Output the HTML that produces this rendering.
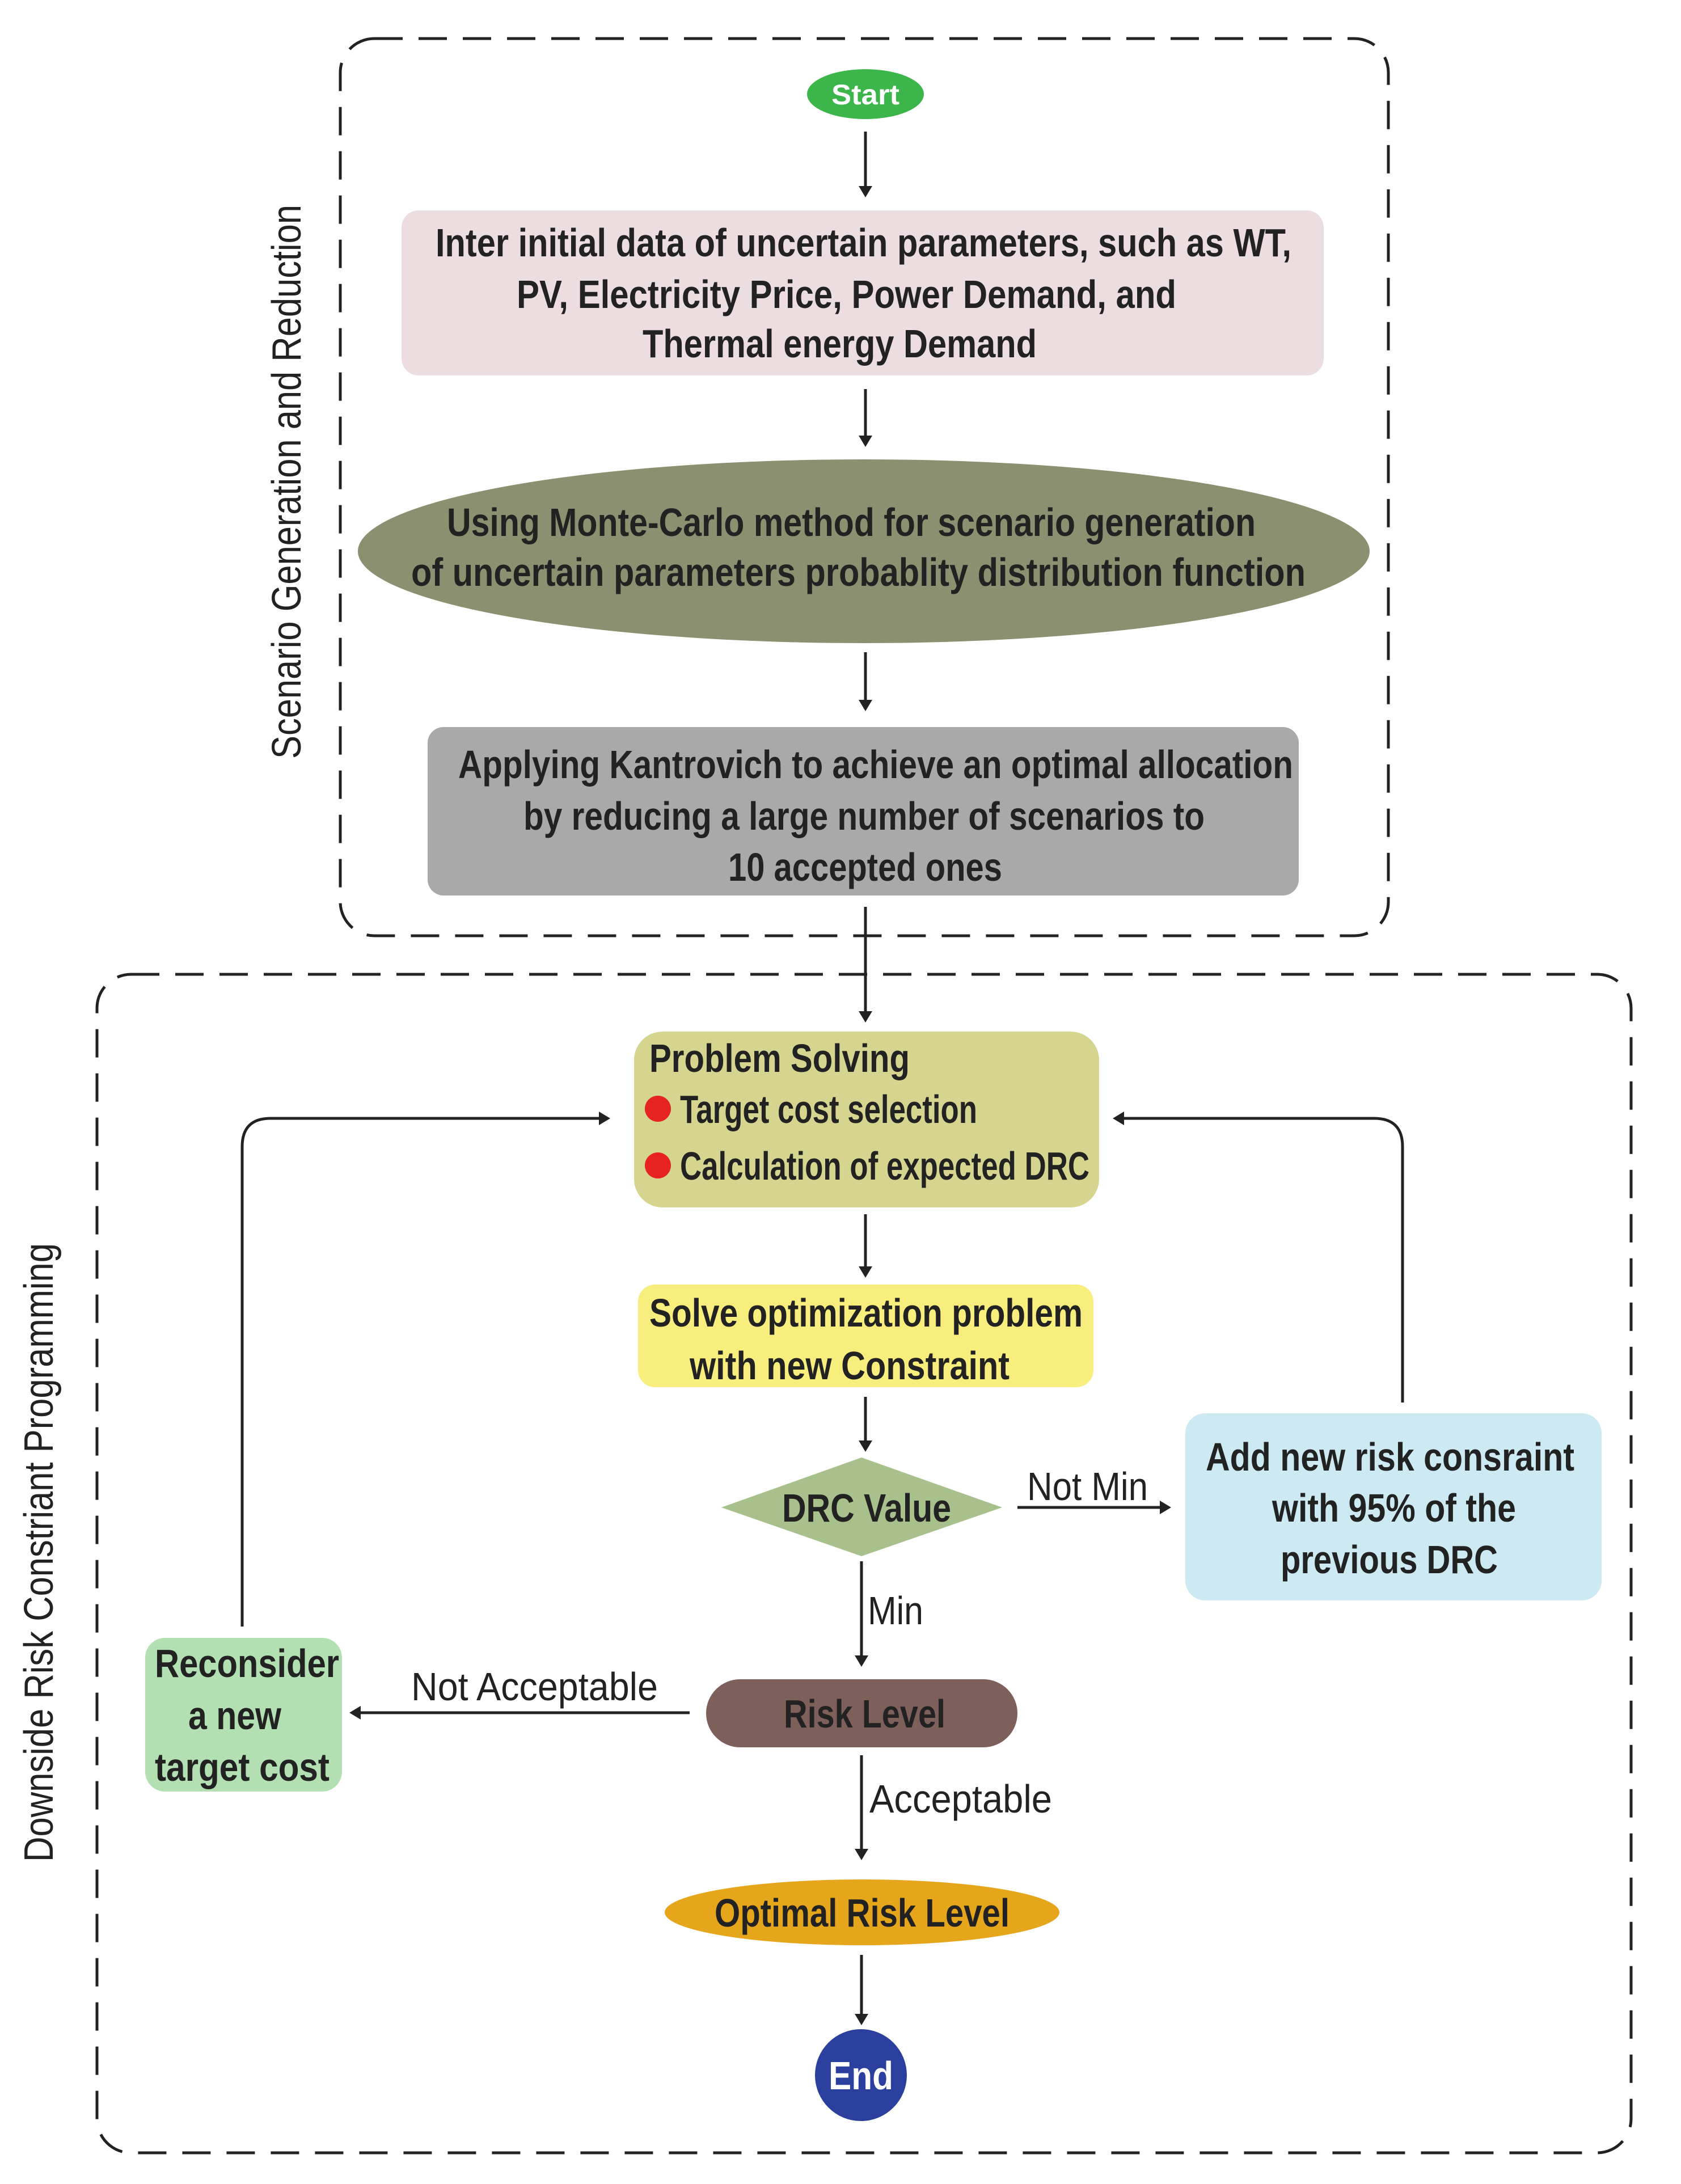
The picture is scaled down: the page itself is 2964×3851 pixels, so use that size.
<!DOCTYPE html>
<html><head><meta charset="utf-8"><style>html,body{margin:0;padding:0;background:#fff}svg{display:block}</style></head>
<body>
<svg width="2964" height="3851" viewBox="0 0 2964 3851" xmlns="http://www.w3.org/2000/svg">
<defs>
<marker id="ar" viewBox="0 0 10 10" refX="9" refY="5" markerWidth="10" markerHeight="10" markerUnits="userSpaceOnUse" orient="auto">
</marker>
</defs>
<style>
text{font-family:"Liberation Sans",sans-serif;font-weight:bold;fill:#222;font-size:70px}
.t{text-anchor:start}
.l{stroke:#222;stroke-width:5;fill:none}
.ah{fill:#222}
</style>
<!-- dashed containers -->
<rect x="600" y="68" width="1848" height="1582" rx="60" fill="none" stroke="#222" stroke-width="5" stroke-dasharray="50,28"/>
<rect x="171" y="1718" width="2705" height="2078" rx="60" fill="none" stroke="#222" stroke-width="5" stroke-dasharray="50,28"/>

<!-- side labels -->
<text transform="translate(530,1338) rotate(-90)" textLength="977" lengthAdjust="spacingAndGlyphs" style="font-weight:normal;font-size:72px">Scenario Generation and Reduction</text>
<text transform="translate(93,3283) rotate(-90)" textLength="1091" lengthAdjust="spacingAndGlyphs" style="font-weight:normal;font-size:72px">Downside Risk Constriant Programming</text>

<!-- Start -->
<ellipse cx="1526" cy="166" rx="103" ry="44" fill="#3cb54a"/>
<text x="1466" y="184" textLength="120" lengthAdjust="spacingAndGlyphs" style="fill:#fff;font-size:50px">Start</text>

<!-- arrows vertical -->
<g class="l">
<line x1="1526" y1="232" x2="1526" y2="330"/>
<line x1="1526" y1="686" x2="1526" y2="770"/>
<line x1="1526" y1="1150" x2="1526" y2="1236"/>
<line x1="1526" y1="1599" x2="1526" y2="1785"/>
<line x1="1526" y1="2141" x2="1526" y2="2235"/>
<line x1="1526" y1="2463" x2="1526" y2="2542"/>
<line x1="1794" y1="2658" x2="2047" y2="2658"/>
<line x1="1519" y1="2753" x2="1519" y2="2921"/>
<line x1="1216" y1="3020" x2="634" y2="3020"/>
<line x1="1519" y1="3095" x2="1519" y2="3262"/>
<line x1="1519" y1="3447" x2="1519" y2="3553"/>
<path d="M2473 2473 V2022 Q2473 1972 2423 1972 H1980"/>
<path d="M427 2868 V2022 Q427 1972 477 1972 H1058"/>
</g>
<g class="ah">
<polygon points="1514,328 1538,328 1526,348"/>
<polygon points="1514,768 1538,768 1526,788"/>
<polygon points="1514,1234 1538,1234 1526,1254"/>
<polygon points="1514,1783 1538,1783 1526,1803"/>
<polygon points="1514,2233 1538,2233 1526,2253"/>
<polygon points="1514,2540 1538,2540 1526,2560"/>
<polygon points="2045,2646 2045,2670 2065,2658"/>
<polygon points="1507,2919 1531,2919 1519,2939"/>
<polygon points="636,3008 636,3032 616,3020"/>
<polygon points="1507,3260 1531,3260 1519,3280"/>
<polygon points="1507,3551 1531,3551 1519,3571"/>
<polygon points="1982,1960 1982,1984 1962,1972"/>
<polygon points="1056,1960 1056,1984 1076,1972"/>
</g>

<!-- Pink box -->
<rect x="708" y="371" width="1626" height="291" rx="30" fill="#ecdde1"/>
<text x="768" y="452" textLength="1509" lengthAdjust="spacingAndGlyphs">Inter initial data of uncertain parameters, such as WT,</text>
<text x="911" y="543" textLength="1163" lengthAdjust="spacingAndGlyphs">PV, Electricity Price, Power Demand, and</text>
<text x="1133" y="630" textLength="695" lengthAdjust="spacingAndGlyphs">Thermal energy Demand</text>

<!-- Olive ellipse -->
<ellipse cx="1523" cy="972" rx="892" ry="162" fill="#8a9070"/>
<text x="788" y="945" textLength="1426" lengthAdjust="spacingAndGlyphs">Using Monte-Carlo method for scenario generation</text>
<text x="725" y="1033" textLength="1577" lengthAdjust="spacingAndGlyphs">of uncertain parameters probablity distribution function</text>

<!-- Gray box -->
<rect x="754" y="1282" width="1536" height="297" rx="28" fill="#a9a9a9"/>
<text x="808" y="1372" textLength="1472" lengthAdjust="spacingAndGlyphs">Applying Kantrovich to achieve an optimal allocation</text>
<text x="923" y="1463" textLength="1201" lengthAdjust="spacingAndGlyphs">by reducing a large number of scenarios to</text>
<text x="1284" y="1553" textLength="483" lengthAdjust="spacingAndGlyphs">10 accepted ones</text>

<!-- Problem Solving -->
<rect x="1118" y="1819" width="820" height="310" rx="50" fill="#d6d590"/>
<text x="1145" y="1890" textLength="459" lengthAdjust="spacingAndGlyphs">Problem Solving</text>
<circle cx="1160" cy="1955" r="23" fill="#e52421"/>
<circle cx="1160" cy="2055" r="23" fill="#e52421"/>
<text x="1199" y="1980" textLength="524" lengthAdjust="spacingAndGlyphs">Target cost selection</text>
<text x="1199" y="2080" textLength="722" lengthAdjust="spacingAndGlyphs">Calculation of expected DRC</text>

<!-- Yellow box -->
<rect x="1125" y="2265" width="803" height="181" rx="30" fill="#f8ee7e"/>
<text x="1145" y="2339" textLength="764" lengthAdjust="spacingAndGlyphs">Solve optimization problem</text>
<text x="1216" y="2432" textLength="564" lengthAdjust="spacingAndGlyphs">with new Constraint</text>

<!-- Diamond -->
<polygon points="1272,2658 1519,2570 1767,2658 1519,2744" fill="#a8c08b"/>
<text x="1379" y="2683" textLength="298" lengthAdjust="spacingAndGlyphs">DRC Value</text>
<text x="1811" y="2645" textLength="213" lengthAdjust="spacingAndGlyphs" style="font-weight:normal">Not Min</text>

<!-- Blue box -->
<rect x="2090" y="2492" width="734" height="330" rx="35" fill="#cde9f2"/>
<text x="2126" y="2593" textLength="650" lengthAdjust="spacingAndGlyphs">Add new risk consraint</text>
<text x="2243" y="2683" textLength="430" lengthAdjust="spacingAndGlyphs">with 95% of the</text>
<text x="2258" y="2774" textLength="383" lengthAdjust="spacingAndGlyphs">previous DRC</text>

<text x="1530" y="2864" textLength="98" lengthAdjust="spacingAndGlyphs" style="font-weight:normal">Min</text>

<!-- Risk Level -->
<rect x="1245" y="2961" width="549" height="120" rx="60" fill="#7d6059"/>
<text x="1382" y="3046" textLength="285" lengthAdjust="spacingAndGlyphs">Risk Level</text>
<text x="725" y="2998" textLength="435" lengthAdjust="spacingAndGlyphs" style="font-weight:normal">Not Acceptable</text>

<!-- Reconsider -->
<rect x="256" y="2888" width="347" height="271" rx="35" fill="#b3e0b3"/>
<text x="273" y="2957" textLength="325" lengthAdjust="spacingAndGlyphs">Reconsider</text>
<text x="332" y="3049" textLength="164" lengthAdjust="spacingAndGlyphs">a new</text>
<text x="273" y="3140" textLength="308" lengthAdjust="spacingAndGlyphs">target cost</text>

<text x="1533" y="3196" textLength="322" lengthAdjust="spacingAndGlyphs" style="font-weight:normal">Acceptable</text>

<!-- Optimal Risk Level -->
<ellipse cx="1520" cy="3372" rx="348" ry="58" fill="#e6a61b"/>
<text x="1260" y="3397" textLength="520" lengthAdjust="spacingAndGlyphs">Optimal Risk Level</text>

<!-- End -->
<circle cx="1518" cy="3659" r="81" fill="#2b3f9e"/>
<text x="1461" y="3684" textLength="114" lengthAdjust="spacingAndGlyphs" style="fill:#fff">End</text>
</svg>
</body></html>
